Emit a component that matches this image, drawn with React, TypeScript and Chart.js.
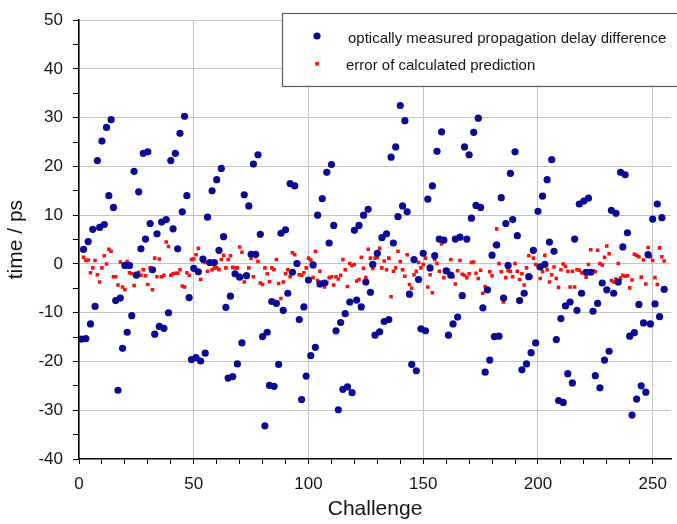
import React, { useEffect, useRef } from 'react';
import { Chart, registerables } from 'chart.js';

Chart.register(...registerables);

const measuredLabel = 'optically measured propagation delay difference';
const errorLabel = 'error of calculated prediction';

const measured: number[] = [
  -15.4, 3.0, -15.3, 4.6, -12.3, 7.1, -8.7, 21.2, 7.5, 25.2,
  8.1, 28.0, 14.0, 29.6, 11.6, -7.5, -25.9, -7.0, -17.3, -0.3,
  -14.0, -0.3, -10.6, 19.0, -2.3, 14.8, 3.1, 22.7, 5.1, 23.0,
  8.3, -1.2, -14.4, 6.2, -12.8, 8.6, -13.2, 9.1, -10.0, 21.2,
  7.2, 22.7, 3.1, 26.8, 10.7, 30.3, 14.0, -6.9, -19.6, -0.9,
  -19.2, -1.6, -19.9, 1.0, -18.3, 9.6, 0.3, 15.0, 0.3, 17.3,
  2.8, 19.6, 5.6, -8.9, -23.4, -6.6, -23.1, -2.0, -20.5, -2.7,
  -16.2, 14.2, -2.4, 11.9, 2.0, 20.5, 2.0, 22.4, 6.1, -14.9,
  -33.2, -14.0, -24.9, -7.7, -25.1, -8.1, -20.6, 6.3, -9.5, 7.0,
  -6.0, 16.5, -1.7, 16.0, 0.1, -11.4, -27.8, -8.8, -23.0, -3.3,
  -18.8, -0.2, -17.1, 10.0, -4.1, 13.4, -3.9, 18.8, 4.3, 20.4,
  7.9, -13.7, -29.9, -12.0, -25.7, -10.2, -25.2, -7.8, -26.4, 6.9,
  -7.4, 7.9, -8.8, 10.0, -3.7, 11.2, -5.8, -0.1, -14.6, 2.2,
  -13.9, 5.4, -11.8, 6.2, -11.4, 21.9, 4.3, 24.0, 9.7, 32.5,
  11.9, 29.4, 10.7, -6.2, -20.6, 0.9, -21.9, -3.2, -13.3, 2.2,
  -13.7, 13.3, -0.8, 16.0, 1.7, 23.1, 5.1, 27.1, 4.9, -1.4,
  -14.6, -2.3, -12.3, 5.1, -10.9, 5.5, -6.5, 24.0, 5.1, 22.4,
  9.4, 27.0, 12.0, 29.9, 11.6, -9.0, -22.2, -5.3, -19.7, 1.8,
  -14.9, 3.9, -14.8, 13.6, -7.0, 8.3, -0.3, 18.6, 9.1, 23.0,
  5.8, -7.5, -21.7, -6.0, -20.5, -2.6, -18.2, 2.8, -16.2, 10.8,
  -0.6, 13.9, -0.1, 17.3, 4.5, 21.4, 2.6, -15.5, -28.0, -11.2,
  -28.4, -8.6, -22.5, -7.8, -24.4, 5.1, -9.5, 12.3, -6.0, 12.9,
  -1.7, 13.5, -1.7, -9.7, -22.9, -8.1, -25.4, -3.9, -19.7, -5.3,
  -17.9, 11.0, -6.0, 10.4, -3.7, 18.8, 3.5, 18.3, 6.4, -14.8,
  -31.0, -14.1, -27.7, -8.3, -25.0, -12.1, -26.3, 1.9, -12.3, 9.2,
  -8.2, 12.3, -10.8, 9.5, -5.2,
];

const predictionError: number[] = [
  2.9, 1.4, 0.7, 0.8, -1.8, -0.8, 0.7, -2.2, -3.7, -0.8,
  1.7, 0.0, 3.0, 2.6, -2.6, -2.6, -4.3, 0.4, -4.7, -5.3,
  0.5, -1.8, -2.0, -4.4, -2.2, -1.7, -2.3, -1.2, -2.4, -4.2,
  -0.8, -5.3, 1.2, -2.6, 1.0, -2.6, -2.3, 4.5, 3.6, -2.3,
  -2.0, -1.9, -1.9, -1.2, -4.5, -4.7, -1.8, -2.3, 0.9, 1.0,
  1.9, 3.2, -3.2, 0.5, 0.3, -1.5, 0.4, -1.2, -0.8, -0.8,
  -1.2, 0.9, 1.8, -0.8, 0.9, 1.7, -0.7, -0.8, -0.8, 3.5,
  2.4, -3.7, -2.3, -0.8, 1.2, -2.6, 1.5, 0.5, -3.9, -4.2,
  -0.8, -2.0, -3.6, -0.8, -1.2, 0.9, -4.0, -7.1, -3.7, -2.0,
  -1.2, -2.6, 2.3, 1.9, 0.3, -2.2, -2.3, -1.8, -0.8, 1.2,
  0.8, -2.8, 2.6, -3.4, -1.5, -4.1, -4.7, -3.8, -2.8, -2.6,
  -4.3, -2.6, -3.1, -2.3, 0.9, -1.2, -4.6, 0.1, -0.3, -0.1,
  -3.5, -3.2, 1.4, -0.9, -2.8, 3.0, 1.2, -0.9, 1.2, 1.4,
  3.2, -0.8, 0.6, -1.2, 1.2, -6.7, -1.5, -0.8, 2.6, 0.5,
  -1.2, -2.5, 1.9, -4.2, -5.0, -2.2, -1.5, 0.3, -0.8, -0.1,
  1.2, -4.7, -2.2, -5.9, 0.9, 0.1, -1.5, 4.1, -2.8, -1.5,
  -1.3, 0.9, -2.6, -4.1, -1.4, 0.7, -2.1, -2.3, -2.8, -2.0,
  0.3, 0.4, -1.9, -3.0, -1.3, -6.0, -4.6, -5.1, -1.6, -2.4,
  3.9, 7.2, 0.1, -1.6, -7.8, -2.8, -1.4, -1.5, -2.6, 0.1,
  -1.5, -3.2, -2.0, -4.3, -0.8, 1.7, -2.6, 1.2, -0.1, -0.5,
  -3.0, -1.6, 1.8, -1.2, -3.7, -2.2, -0.6, -3.0, -4.8, -1.2,
  0.0, -0.5, -1.5, -4.7, -1.5, -4.7, -1.2, -1.3, -1.8, -1.8,
  -2.7, -0.1, 2.9, -1.4, -1.6, 2.8, 0.1, -0.2, 1.4, 3.7,
  2.1, -3.4, -3.7, -3.1, 0.1, -2.9, -2.3, -2.5, -2.4, -4.9,
  -3.3, 2.0, 1.8, 1.5, -2.7, 0.8, -4.1, 3.4, 1.5, 0.7,
  -2.8, -4.2, 3.3, 1.5, 0.6,
];

// challenge index of every point (1, 2, 3, ...)
const challenges: number[] = measured.map((_, i) => i + 1);

const xTickValues: number[] = [0, 10, 20, 30, 40, 50, 60, 70, 80, 90, 100, 110, 120, 130, 140, 150, 160, 170, 180, 190, 200, 210, 220, 230, 240, 250];
const yTickValues: number[] = [-40, -35, -30, -25, -20, -15, -10, -5, 0, 5, 10, 15, 20, 25, 30, 35, 40, 45, 50];

const FONT = "'Liberation Sans', Arial, sans-serif";
const BLUE = '#0a0a94';
const RED = '#ff0d0d';
const TEXT = '#151515';
const GRID = '#c4c4c4';

const boxLegend = {
  id: 'boxLegend',
  afterDraw(chart: any) {
    const ctx = chart.ctx as CanvasRenderingContext2D;
    ctx.save();
    ctx.fillStyle = '#ffffff';
    ctx.fillRect(282, 13, 420, 73);
    ctx.strokeStyle = '#5a5a5a';
    ctx.lineWidth = 1.2;
    ctx.strokeRect(282.5, 13.5, 420, 73);
    const ds = chart.data.datasets;
    ctx.fillStyle = ds[0].backgroundColor;
    ctx.beginPath();
    ctx.arc(317, 36, 3.6, 0, Math.PI * 2);
    ctx.fill();
    ctx.fillStyle = ds[1].backgroundColor;
    ctx.fillRect(315.3, 62, 3.6, 3.6);
    ctx.fillStyle = TEXT;
    ctx.font = `15px ${FONT}`;
    ctx.textBaseline = 'middle';
    ctx.textAlign = 'left';
    ctx.fillText(ds[0].label, 348, 39);
    ctx.fillText(ds[1].label, 346, 65.5);
    ctx.restore();
  },
};

export default function App() {
  const canvasRef = useRef<HTMLCanvasElement | null>(null);

  useEffect(() => {
    if (!canvasRef.current) return;
    const chart = new Chart(canvasRef.current, {
      type: 'scatter',
      data: {
        datasets: [
          {
            label: measuredLabel,
            data: measured.map((v, i) => ({ x: challenges[i], y: v })),
            backgroundColor: BLUE,
            borderWidth: 0,
            pointRadius: 3.6,
            pointStyle: 'circle',
          },
          {
            label: errorLabel,
            data: predictionError.map((v, i) => ({ x: challenges[i], y: v })),
            backgroundColor: RED,
            borderWidth: 0,
            pointRadius: 2.5,
            pointStyle: 'rect',
          },
        ],
      },
      options: {
        animation: false,
        responsive: false,
        events: [],
        layout: { padding: { top: 16, left: 0, right: 0, bottom: 0 } },
        plugins: {
          legend: { display: false },
          tooltip: { enabled: false },
        },
        scales: {
          x: {
            type: 'linear',
            min: 0,
            max: 258,
            afterBuildTicks: (axis: any) => {
              axis.ticks = xTickValues.map((v) => ({ value: v }));
            },
            afterFit: (axis: any) => {
              axis.height = 65;
            },
            border: { color: '#000', width: 1.6 },
            grid: {
              color: (c: any) => (c.tick && c.tick.value % 50 === 0 && c.tick.value !== 0 ? GRID : 'rgba(0,0,0,0)'),
              tickColor: '#000',
              tickLength: 5,
              lineWidth: 1,
            },
            ticks: {
              autoSkip: false,
              maxRotation: 0,
              padding: 10,
              color: TEXT,
              font: { family: FONT, size: 17 },
              callback: (v: any) => (Number(v) % 50 === 0 ? String(v) : ''),
            },
            title: {
              display: true,
              text: 'Challenge',
              color: TEXT,
              font: { family: FONT, size: 21 },
              padding: { top: 0, bottom: 2 },
            },
          },
          y: {
            type: 'linear',
            min: -40,
            max: 50,
            afterBuildTicks: (axis: any) => {
              axis.ticks = yTickValues.map((v) => ({ value: v }));
            },
            afterFit: (axis: any) => {
              axis.width = 79;
            },
            border: { color: '#000', width: 1.6 },
            grid: {
              color: (c: any) => (c.tick && c.tick.value % 10 === 0 && c.tick.value !== -40 ? GRID : 'rgba(0,0,0,0)'),
              tickColor: '#000',
              tickLength: 6,
              lineWidth: 1,
            },
            ticks: {
              autoSkip: false,
              padding: 10,
              color: TEXT,
              font: { family: FONT, size: 17 },
              callback: (v: any) => (Number(v) % 10 === 0 ? String(v) : ''),
            },
            title: {
              display: true,
              text: 'time / ps',
              color: TEXT,
              font: { family: FONT, size: 21 },
              padding: { top: 4, bottom: 0 },
            },
          },
        },
      },
      plugins: [boxLegend],
    });
    return () => chart.destroy();
  }, []);

  return (
    <div style={{ position: 'absolute', left: 0, top: 0, width: 677, height: 524, background: '#fff' }}>
      <canvas ref={canvasRef} width={677} height={524} style={{ display: 'block' }} />
    </div>
  );
}
